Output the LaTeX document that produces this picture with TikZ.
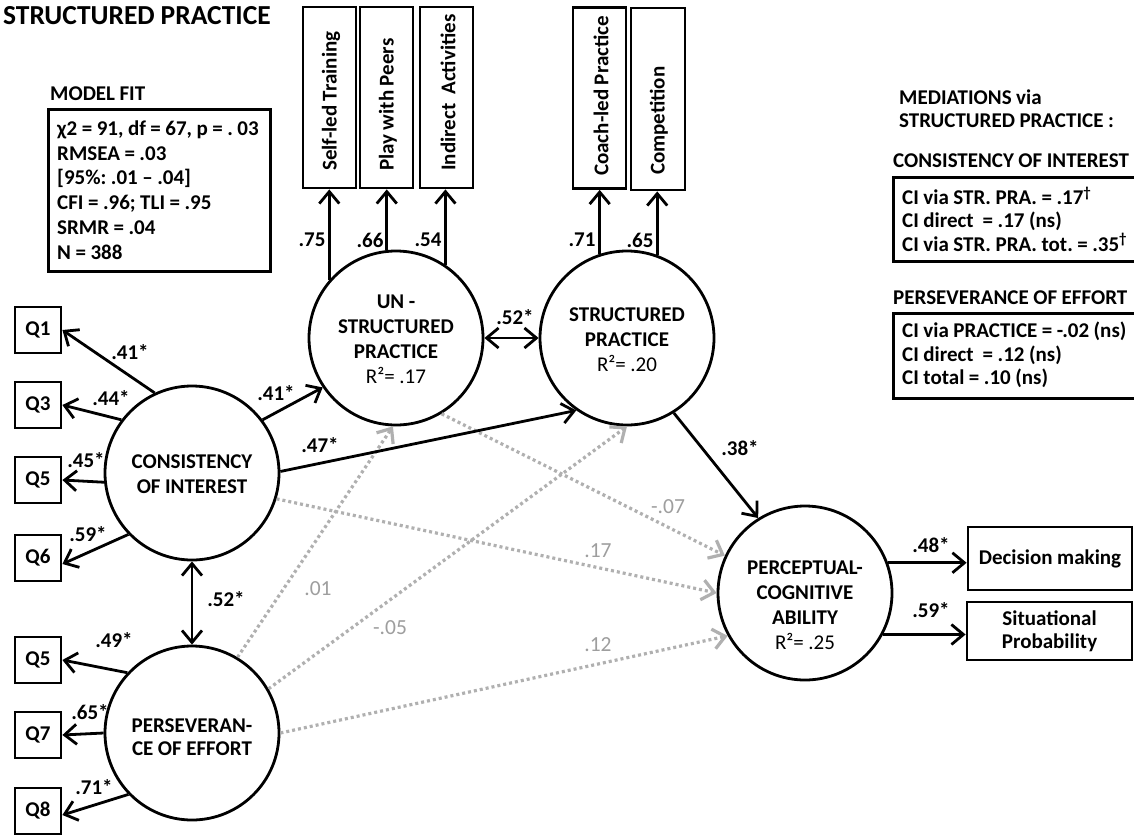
\documentclass[tikz,border=0pt]{standalone}
\usepackage{fontspec}
\setmainfont{Carlito}[WordSpace=0.95]
\usetikzlibrary{arrows.meta,calc}
\definecolor{lg}{RGB}{176,176,176}
\definecolor{lgt}{RGB}{158,158,158}
\begin{document}
\frenchspacing
\begin{tikzpicture}[x=1pt,y=-1pt,
  every node/.style={font=\fontsize{21}{24}\selectfont},
  lat/.style={circle,draw,line width=2.8pt,minimum size=174pt,inner sep=0pt},
  obs/.style={rectangle,draw,line width=2.8pt,inner sep=0pt},
  bt/.style={font=\fontsize{21}{24}\selectfont\bfseries},
  ctext/.style={align=center,font=\fontsize{21}{25}\selectfont\bfseries},
  vtext/.style={rotate=90,anchor=west,inner sep=0pt,font=\fontsize{21}{24}\selectfont\bfseries},
  btext/.style={anchor=west,inner sep=0pt,align=left,font=\fontsize{21}{23.3}\selectfont\bfseries},
  ar/.style={line width=2.8pt,-{Straight Barb[length=12pt,width=20pt]}},
  dar/.style={line width=2.8pt,{Straight Barb[length=12pt,width=20pt]}-{Straight Barb[length=12pt,width=20pt]}},
  gar/.style={line width=3.2pt,lg,dash pattern=on 3pt off 3pt,-{Straight Barb[length=12pt,width=20pt]}},
  lab/.style={font=\fontsize{21}{24}\selectfont\bfseries},
  glab/.style={font=\fontsize{21.5}{24}\selectfont,text=lgt},
  mbox/.style={obs,anchor=north west,minimum width=250pt},
]
\useasboundingbox (0,0) rectangle (1134,835);
\fill[white] (0,0) rectangle (1134,835);
\clip (0,0) rectangle (1134,835);

% title
\node[anchor=west,inner sep=0pt,font=\fontsize{27.5}{30}\selectfont\bfseries] (title) at (3,16) {STRUCTURED PRACTICE};

% model fit
\node[bt,anchor=west,inner sep=0pt] (mft) at (50,94) {MODEL FIT};
\node[obs,anchor=north west,minimum width=222pt,minimum height=162pt] (mf) at (47,108) {};
\node[btext,font=\fontsize{21}{24.8}\selectfont\bfseries] (mftx) at (57,190)
  {χ2 = 91, df = 67, p = . 03\\RMSEA = .03\\{[}95\%: .01 – .04{]}\\CFI = .96; TLI = .95\\SRMR = .04\\N = 388};

% mediations
\node[btext,font=\fontsize{21}{23}\selectfont\bfseries] (medt) at (899,108.5) {MEDIATIONS via\\STRUCTURED PRACTICE :};
\node[bt,anchor=west,inner sep=0pt] (cit) at (893,161) {CONSISTENCY OF INTEREST};
\node[mbox,minimum height=84pt] (med1) at (892,176) {};
\node[btext] (med1tx) at (902,219)
  {CI via STR. PRA. = .17\textsuperscript{†}\\CI direct~ = .17 (ns)\\CI via STR. PRA. tot. = .35\textsuperscript{†}};
\node[bt,anchor=west,inner sep=0pt] (pet) at (893,298) {PERSEVERANCE OF EFFORT};
\node[mbox,minimum height=85pt] (med2) at (892,312) {};
\node[btext] (med2tx) at (902,355)
  {CI via PRACTICE = -.02 (ns)\\CI direct~ = .12 (ns)\\CI total = .10 (ns)};

% latent variables
\node[lat] (ci) at (192,473) {};
\node[ctext] (citx) at (192,474) {CONSISTENCY\\OF INTEREST};
\node[lat] (pe) at (192,733) {};
\node[ctext,font=\fontsize{21}{23}\selectfont\bfseries] (petx) at (192,737) {PERSEVERAN-\\CE OF EFFORT};
\node[lat] (un) at (396,338) {};
\node[ctext] (untx) at (396,339) {UN -\\STRUCTURED\\PRACTICE\\\mdseries R²= .17};
\node[lat] (st) at (627,338) {};
\node[ctext] (sttx) at (627,340) {STRUCTURED\\PRACTICE\\\mdseries R²= .20};
\node[lat] (pca) at (805,593) {};
\node[ctext] (pcatx) at (805,605) {PERCEPTUAL-\\COGNITIVE\\ABILITY\\\mdseries R²= .25};

% indicators left
\node[obs,bt,minimum width=46pt,minimum height=46pt] (q1) at (38,330) {Q1};
\node[obs,bt,minimum width=46pt,minimum height=46pt] (q3) at (38,405) {Q3};
\node[obs,bt,minimum width=46pt,minimum height=46pt] (q5a) at (38,480) {Q5};
\node[obs,bt,minimum width=46pt,minimum height=46pt] (q6) at (38,558) {Q6};
\node[obs,bt,minimum width=46pt,minimum height=46pt] (q5b) at (38,660) {Q5};
\node[obs,bt,minimum width=46pt,minimum height=46pt] (q7) at (38,735) {Q7};
\node[obs,bt,minimum width=46pt,minimum height=46pt] (q8) at (38,811) {Q8};

% indicators top
\node[obs,minimum width=53pt,minimum height=181pt] (self) at (329.5,97.5) {};
\node[vtext] (selft) at (331,171) {Self-led Training};
\node[obs,minimum width=53pt,minimum height=181pt] (play) at (386.5,97.5) {};
\node[vtext] (playt) at (388,171) {Play with Peers};
\node[obs,minimum width=53pt,minimum height=181pt] (ind) at (446.5,97.5) {};
\node[vtext] (indt) at (448,171) {Indirect~ Activities};
\node[obs,minimum width=53pt,minimum height=181pt] (coach) at (599.5,98) {};
\node[vtext] (coacht) at (601,176) {Coach-led Practice};
\node[obs,minimum width=54pt,minimum height=182pt] (comp) at (658,99) {};
\node[vtext] (compt) at (659,175) {Competition};

% indicators right
\node[obs,bt,minimum width=164pt,minimum height=63pt] (dec) at (1050,558.5) {Decision making};
\node[obs,minimum width=165pt,minimum height=58pt,align=center,font=\fontsize{21}{23}\selectfont\bfseries] (sit) at (1049.5,631) {Situational\\Probability};

% non-significant paths
\draw[gar] (un.-59) -- (pca.155);
\draw[gar] (ci.-17) -- (pca.180);
\draw[gar] (pe.59) -- (un.268);
\draw[gar] (pe.30) -- (st.270);
\draw[gar] (pe.0) -- (pca.209);

% loadings
\draw[ar] (ci.115) -- (q1.east);
\draw[ar] (ci.143) -- (q3.east);
\draw[ar] (ci.186) -- (q5a.east);
\draw[ar] (ci.224) -- ([yshift=-6pt]q6.east);
\draw[ar] (pe.137) -- (q5b.east);
\draw[ar] (pe.180) -- (q7.east);
\draw[ar] (pe.224) -- ([yshift=-4pt]q8.east);
\draw[ar] (un.139) -- (un.139 |- self.south);
\draw[ar] (un.96) -- (un.96 |- play.south);
\draw[ar] (un.56) -- (un.56 |- ind.south);
\draw[ar] (st.108) -- (st.108 |- coach.south);
\draw[ar] (st.70) -- (st.70 |- comp.south);
\draw[ar] (pca.20) -- (pca.20 -| dec.west);
\draw[ar] (pca.-28) -- (pca.-28 -| sit.west);

% structural paths
\draw[dar] (ci.south) -- (pe.north);
\draw[ar] (ci.37) -- (un.214);
\draw[ar] (ci.1) -- (st.235);
\draw[dar] (un.east) -- (st.west);
\draw[ar] (st.-58) -- (pca.122);

% labels
\node[lab] (l1) at (130,352) {.41*};
\node[lab] (l2) at (111,398) {.44*};
\node[lab] (l3) at (86,460) {.45*};
\node[lab] (l4) at (88,534) {.59*};
\node[lab] (l5) at (114,640) {.49*};
\node[lab] (l6) at (90,712) {.65*};
\node[lab] (l7) at (94,787) {.71*};
\node[lab] (l8) at (226,599) {.52*};
\node[lab] (l9) at (276,393) {.41*};
\node[lab] (l10) at (320,445) {.47*};
\node[lab] (l11) at (515,317) {.52*};
\node[lab] (l12) at (740,448) {.38*};
\node[lab] (l13) at (931,545) {.48*};
\node[lab] (l14) at (931,610) {.59*};
\node[lab] (t1) at (312,240) {.75};
\node[lab] (t2) at (370,240) {.66};
\node[lab] (t3) at (428,240) {.54};
\node[lab] (t4) at (582,240) {.71};
\node[lab] (t5) at (640,240) {.65};
\node[glab] (g1) at (668,507) {-.07};
\node[glab] (g2) at (598,551) {.17};
\node[glab] (g3) at (318,589) {.01};
\node[glab] (g4) at (390,628) {-.05};
\node[glab] (g5) at (598,645) {.12};
\end{tikzpicture}
\end{document}
